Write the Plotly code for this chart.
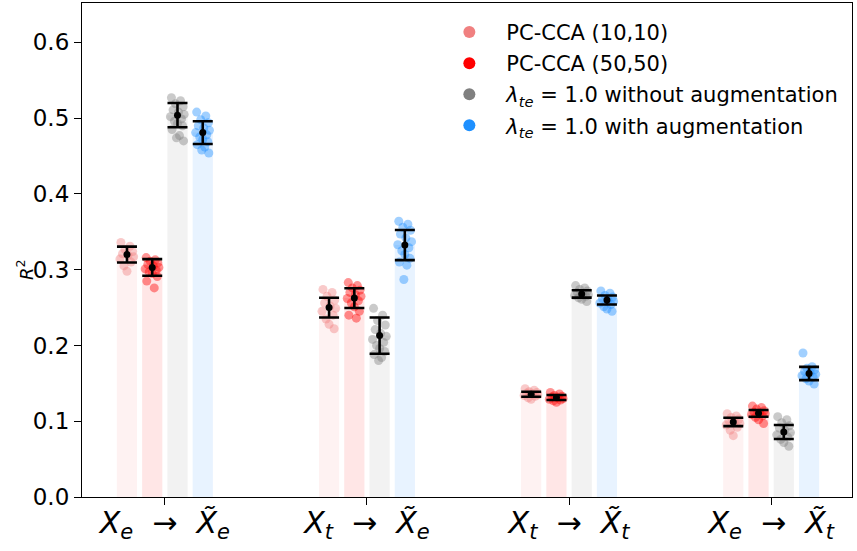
import plotly.graph_objects as go

# ---- data ----
NB = "\u00a0"
tick_labels = [
    f"<i>X</i><sub><i>e</i></sub>{NB} → {NB}<i>X̃</i><sub><i>e</i></sub>",
    f"<i>X</i><sub><i>t</i></sub>{NB} → {NB}<i>X̃</i><sub><i>e</i></sub>",
    f"<i>X</i><sub><i>t</i></sub>{NB} → {NB}<i>X̃</i><sub><i>t</i></sub>",
    f"<i>X</i><sub><i>e</i></sub>{NB} → {NB}<i>X̃</i><sub><i>t</i></sub>",
]
series_names = [
    "PC-CCA (10,10)",
    "PC-CCA (50,50)",
    "<i>λ</i><sub><i>te</i></sub> = 1.0 without augmentation",
    "<i>λ</i><sub><i>te</i></sub> = 1.0 with augmentation",
]
y_ticks = [0, 0.1, 0.2, 0.3, 0.4, 0.5, 0.6]
y_tick_labels = ["0.0", "0.1", "0.2", "0.3", "0.4", "0.5", "0.6"]

pc10_mean = [0.320, 0.250, 0.1357, 0.099]
pc10_err = [0.0105, 0.013, 0.0033, 0.0055]
pc50_mean = [0.303, 0.2625, 0.1313, 0.1104]
pc50_err = [0.011, 0.013, 0.0033, 0.0044]
noaug_mean = [0.504, 0.213, 0.268, 0.0858]
noaug_err = [0.016, 0.024, 0.0048, 0.0092]
aug_mean = [0.481, 0.3325, 0.260, 0.163]
aug_err = [0.015, 0.0198, 0.006, 0.0088]

pc10_points = [
    [0.336, 0.331, 0.327, 0.324, 0.321, 0.319, 0.317, 0.314, 0.310, 0.305, 0.298],
    [0.274, 0.270, 0.265, 0.260, 0.256, 0.252, 0.249, 0.245, 0.240, 0.235, 0.228, 0.222],
    [0.143, 0.141, 0.139, 0.138, 0.137, 0.136, 0.135, 0.134, 0.133, 0.131, 0.129],
    [0.110, 0.107, 0.105, 0.103, 0.101, 0.099, 0.097, 0.095, 0.092, 0.088, 0.081],
]
pc50_points = [
    [0.316, 0.313, 0.311, 0.309, 0.307, 0.305, 0.303, 0.301, 0.299, 0.297, 0.295, 0.291, 0.285, 0.276],
    [0.283, 0.279, 0.276, 0.273, 0.270, 0.267, 0.265, 0.262, 0.259, 0.256, 0.251, 0.245, 0.240, 0.236],
    [0.138, 0.136, 0.134, 0.133, 0.132, 0.131, 0.130, 0.129, 0.128, 0.127, 0.125],
    [0.120, 0.118, 0.116, 0.114, 0.112, 0.111, 0.110, 0.109, 0.107, 0.105, 0.102, 0.097],
]
noaug_points = [
    [0.527, 0.523, 0.519, 0.515, 0.511, 0.508, 0.505, 0.502, 0.499, 0.496, 0.493, 0.490, 0.485, 0.477, 0.474, 0.470],
    [0.249, 0.240, 0.233, 0.227, 0.221, 0.216, 0.212, 0.208, 0.204, 0.200, 0.196, 0.192, 0.188, 0.184, 0.180],
    [0.279, 0.276, 0.274, 0.272, 0.270, 0.268, 0.267, 0.266, 0.265, 0.263, 0.261, 0.258],
    [0.106, 0.102, 0.098, 0.094, 0.091, 0.088, 0.085, 0.082, 0.079, 0.076, 0.072, 0.067],
]
aug_points = [
    [0.508, 0.503, 0.498, 0.494, 0.490, 0.487, 0.484, 0.481, 0.478, 0.475, 0.472, 0.469, 0.465, 0.462, 0.458, 0.454],
    [0.364, 0.360, 0.356, 0.352, 0.347, 0.342, 0.337, 0.333, 0.329, 0.325, 0.320, 0.315, 0.310, 0.306, 0.287],
    [0.272, 0.269, 0.266, 0.264, 0.262, 0.260, 0.258, 0.256, 0.254, 0.251, 0.248, 0.245],
    [0.190, 0.172, 0.170, 0.168, 0.166, 0.164, 0.162, 0.160, 0.158, 0.156, 0.153, 0.149],
]

# ---- styling ----
offsets = [-0.1875, -0.0625, 0.0625, 0.1875]
bar_width = 0.1
jitter = [-0.03, 0.015, -0.01, 0.028, -0.022, 0.005, 0.033, -0.035,
          0.02, -0.015, 0.0, 0.025, -0.027, 0.01, -0.005, 0.03]
point_colors = ["#F08080", "#FF0000", "#808080", "#1E90FF"]
bar_colors = ["#FEF2F2", "#FFE6E6", "#F2F2F2", "#E8F3FF"]
FONT = "DejaVu Sans"

means = [pc10_mean, pc50_mean, noaug_mean, aug_mean]
errs = [pc10_err, pc50_err, noaug_err, aug_err]
points = [pc10_points, pc50_points, noaug_points, aug_points]
cats = list(range(len(tick_labels)))

fig = go.Figure()

# bars
for s in range(4):
    fig.add_trace(go.Bar(
        x=[c + offsets[s] for c in cats], y=means[s], width=bar_width,
        marker=dict(color=bar_colors[s], line=dict(width=0)),
        showlegend=False, hoverinfo="skip"))

# individual points
for s in range(4):
    xs, ys = [], []
    for c in cats:
        for k, v in enumerate(points[s][c]):
            xs.append(c + offsets[s] + jitter[k % len(jitter)])
            ys.append(v)
    fig.add_trace(go.Scatter(
        x=xs, y=ys, mode="markers",
        marker=dict(color=point_colors[s], size=9, opacity=0.42, line=dict(width=0)),
        showlegend=False, hoverinfo="skip"))

# error bars with mean
for s in range(4):
    fig.add_trace(go.Scatter(
        x=[c + offsets[s] for c in cats], y=means[s], mode="markers",
        marker=dict(color="black", size=7),
        error_y=dict(type="data", array=errs[s], color="black", thickness=2.6, width=10),
        showlegend=False, hoverinfo="skip"))

# legend entries
for s in range(4):
    fig.add_trace(go.Scatter(
        x=[None], y=[None], mode="markers", name=series_names[s],
        legendgroup=f"g{s}",
        marker=dict(color=point_colors[s], size=12)))

fig.update_layout(
    width=857, height=551,
    margin=dict(l=82, r=5, t=3, b=54, autoexpand=False),
    paper_bgcolor="white", plot_bgcolor="white",
    barmode="overlay",
    font=dict(family=FONT, color="black", size=20),
    legend=dict(x=0.455, y=0.982, xanchor="left", yanchor="top",
                bgcolor="rgba(0,0,0,0)", borderwidth=0,
                font=dict(family=FONT, size=21), tracegroupgap=0.8,
                itemwidth=64, itemsizing="trace"),
    xaxis=dict(range=[-0.41, 3.40], tickmode="array", tickvals=cats,
               ticktext=tick_labels, tickfont=dict(family=FONT, size=30),
               ticks="outside", ticklen=7, tickwidth=1.2, tickcolor="black",
               ticklabelstandoff=-8, automargin=False,
               showline=True, linecolor="black", linewidth=1.2, mirror=True,
               showgrid=False, zeroline=False),
    yaxis=dict(range=[0, 0.652], tickmode="array",
               tickvals=y_ticks, ticktext=y_tick_labels,
               tickfont=dict(family=FONT, size=23), automargin=False,
               ticks="outside", ticklen=7, tickwidth=1.2, tickcolor="black",
               showline=True, linecolor="black", linewidth=1.2, mirror=True,
               showgrid=False, zeroline=False),
    annotations=[dict(text="<i>R</i><sup>2</sup>", xref="paper", yref="paper",
                      x=-(82 - 25) / 770, y=(497 - 270) / 494, showarrow=False,
                      textangle=-90, xanchor="center", yanchor="middle",
                      font=dict(family=FONT, size=18))],
)

fig.write_html("out.html", config={"displayModeBar": False},
               post_script="document.body.style.margin='0';")
